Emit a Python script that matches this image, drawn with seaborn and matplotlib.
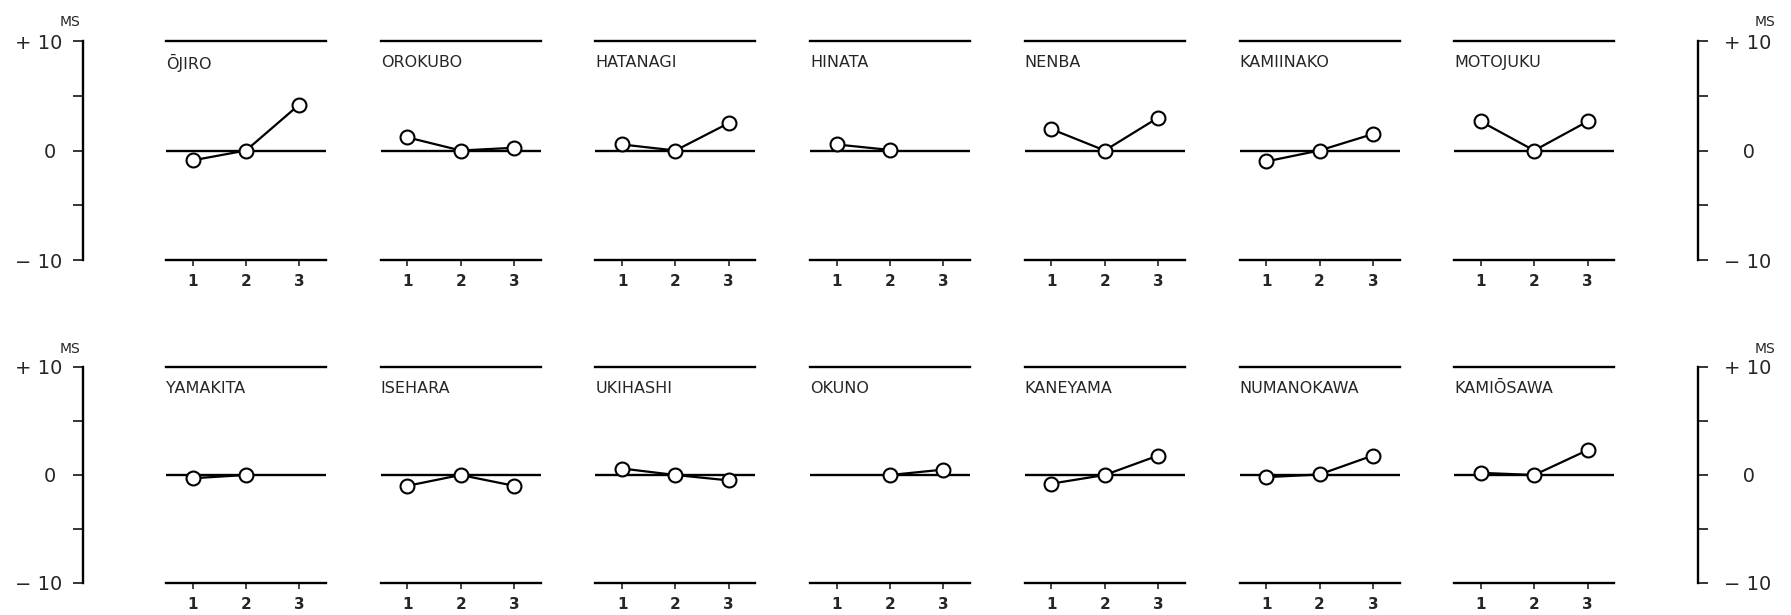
import numpy as np
import pandas as pd
import matplotlib
matplotlib.use('Agg')
import matplotlib.pyplot as plt
import seaborn as sns

# ---- data (MS) ----
sessions = [1, 2, 3]

top_names = ['ŌJIRO', 'OROKUBO', 'HATANAGI', 'HINATA', 'NENBA', 'KAMIINAKO', 'MOTOJUKU']
bottom_names = ['YAMAKITA', 'ISEHARA', 'UKIHASHI', 'OKUNO', 'KANEYAMA', 'NUMANOKAWA', 'KAMIŌSAWA']

ojiro      = [-0.9, 0.0, 4.2]
orokubo    = [1.2, 0.0, 0.25]
hatanagi   = [0.55, 0.0, 2.5]
hinata     = [0.55, 0.05, np.nan]
nenba      = [1.95, 0.0, 3.0]
kamiinako  = [-1.0, 0.0, 1.5]
motojuku   = [2.65, 0.0, 2.65]

yamakita   = [-0.3, 0.0, np.nan]
isehara    = [-1.0, 0.0, -1.0]
ukihashi   = [0.6, 0.0, -0.5]
okuno      = [np.nan, 0.0, 0.5]
kaneyama   = [-0.8, 0.0, 1.8]
numanokawa = [-0.2, 0.05, 1.8]
kamiosawa  = [0.2, 0.0, 2.3]

scale_ticks = [-10, -5, 0, 5, 10]

top_vals = [ojiro, orokubo, hatanagi, hinata, nenba, kamiinako, motojuku]
bottom_vals = [yamakita, isehara, ukihashi, okuno, kaneyama, numanokawa, kamiosawa]

rows = []
for names, vals, r in [(top_names, top_vals, 0), (bottom_names, bottom_vals, 1)]:
	for n, v in zip(names, vals):
		for s, m in zip(sessions, v):
			rows.append({'row': r, 'station': n, 'session': s, 'ms': m})
df = pd.DataFrame(rows)

# ---- plotting ----
sns.set_style('white')
plt.rcParams['font.family'] = ['DejaVu Sans']

W, H = 1791, 615
fig = plt.figure(figsize=(W/100, H/100), dpi=100)
fig.patch.set_facecolor('white')

def px_axes(x0, ytop, w, h):
	return fig.add_axes([x0/W, 1 - (ytop + h)/H, w/W, h/H])

row_geom = [(41, 219), (367, 216)]
_lw = 1.7

for r, names in enumerate([top_names, bottom_names]):
	ytop, h = row_geom[r]
	for i, name in enumerate(names):
		ax = px_axes(166 + 214.7*i, ytop, 160, h)
		ax.set_facecolor('none')
		sub = df[(df.row == r) & (df.station == name)]
		ax.axhline(0, color='black', lw=_lw, zorder=1)
		sns.lineplot(data=sub, x='session', y='ms', ax=ax, color='black',
			linewidth=1.6, marker='o', markersize=10, markerfacecolor='white',
			markeredgecolor='black', markeredgewidth=1.5, zorder=3, legend=False)
		ax.set_xlim(0.5, 3.5)
		ax.set_ylim(-10, 10)
		ax.set_xlabel('')
		ax.set_ylabel('')
		ax.set_yticks([])
		ax.set_xticks(sessions)
		ax.set_xticklabels([str(s) for s in sessions], fontsize=11, fontweight='bold')
		ax.tick_params(axis='x', direction='out', length=4, width=1.2, pad=6, bottom=True)
		for side in ['left', 'right']:
			ax.spines[side].set_visible(False)
		for side in ['top', 'bottom']:
			ax.spines[side].set_visible(True)
			ax.spines[side].set_linewidth(_lw)
			ax.spines[side].set_color('black')
		ax.text(0.5, 8.0, name, ha='left', va='center', fontsize=11.5)

	# scale bars on both sides
	lax = px_axes(83, ytop, 1, h)
	rax = px_axes(1697, ytop, 1, h)
	for sax, side in [(lax, 'left'), (rax, 'right')]:
		sax.set_facecolor('none')
		sax.set_ylim(-10, 10)
		sax.set_xticks([])
		for sp in ['left', 'right', 'top', 'bottom']:
			sax.spines[sp].set_visible(sp == side)
		sax.spines[side].set_linewidth(_lw)
		sax.spines[side].set_color('black')
		sax.set_yticks(scale_ticks)
		if side == 'left':
			sax.set_yticklabels(['− 10', '', '0 ', '', '+ 10'])
			sax.tick_params(axis='y', left=True, right=False, direction='out',
				length=7, width=1.3, pad=8, labelsize=14)
			sax.text(-3, 1.085, 'MS', transform=sax.transAxes, ha='right', va='center', fontsize=10)
		else:
			sax.yaxis.tick_right()
			sax.set_yticklabels(['− 10', '', '   0', '', '+ 10'])
			sax.tick_params(axis='y', left=False, right=True, direction='out',
				length=7, width=1.3, pad=12, labelsize=14)
			sax.text(68, 1.085, 'MS', transform=sax.transAxes, ha='center', va='center', fontsize=10)

fig.savefig('out.png', dpi=100, facecolor='white')
